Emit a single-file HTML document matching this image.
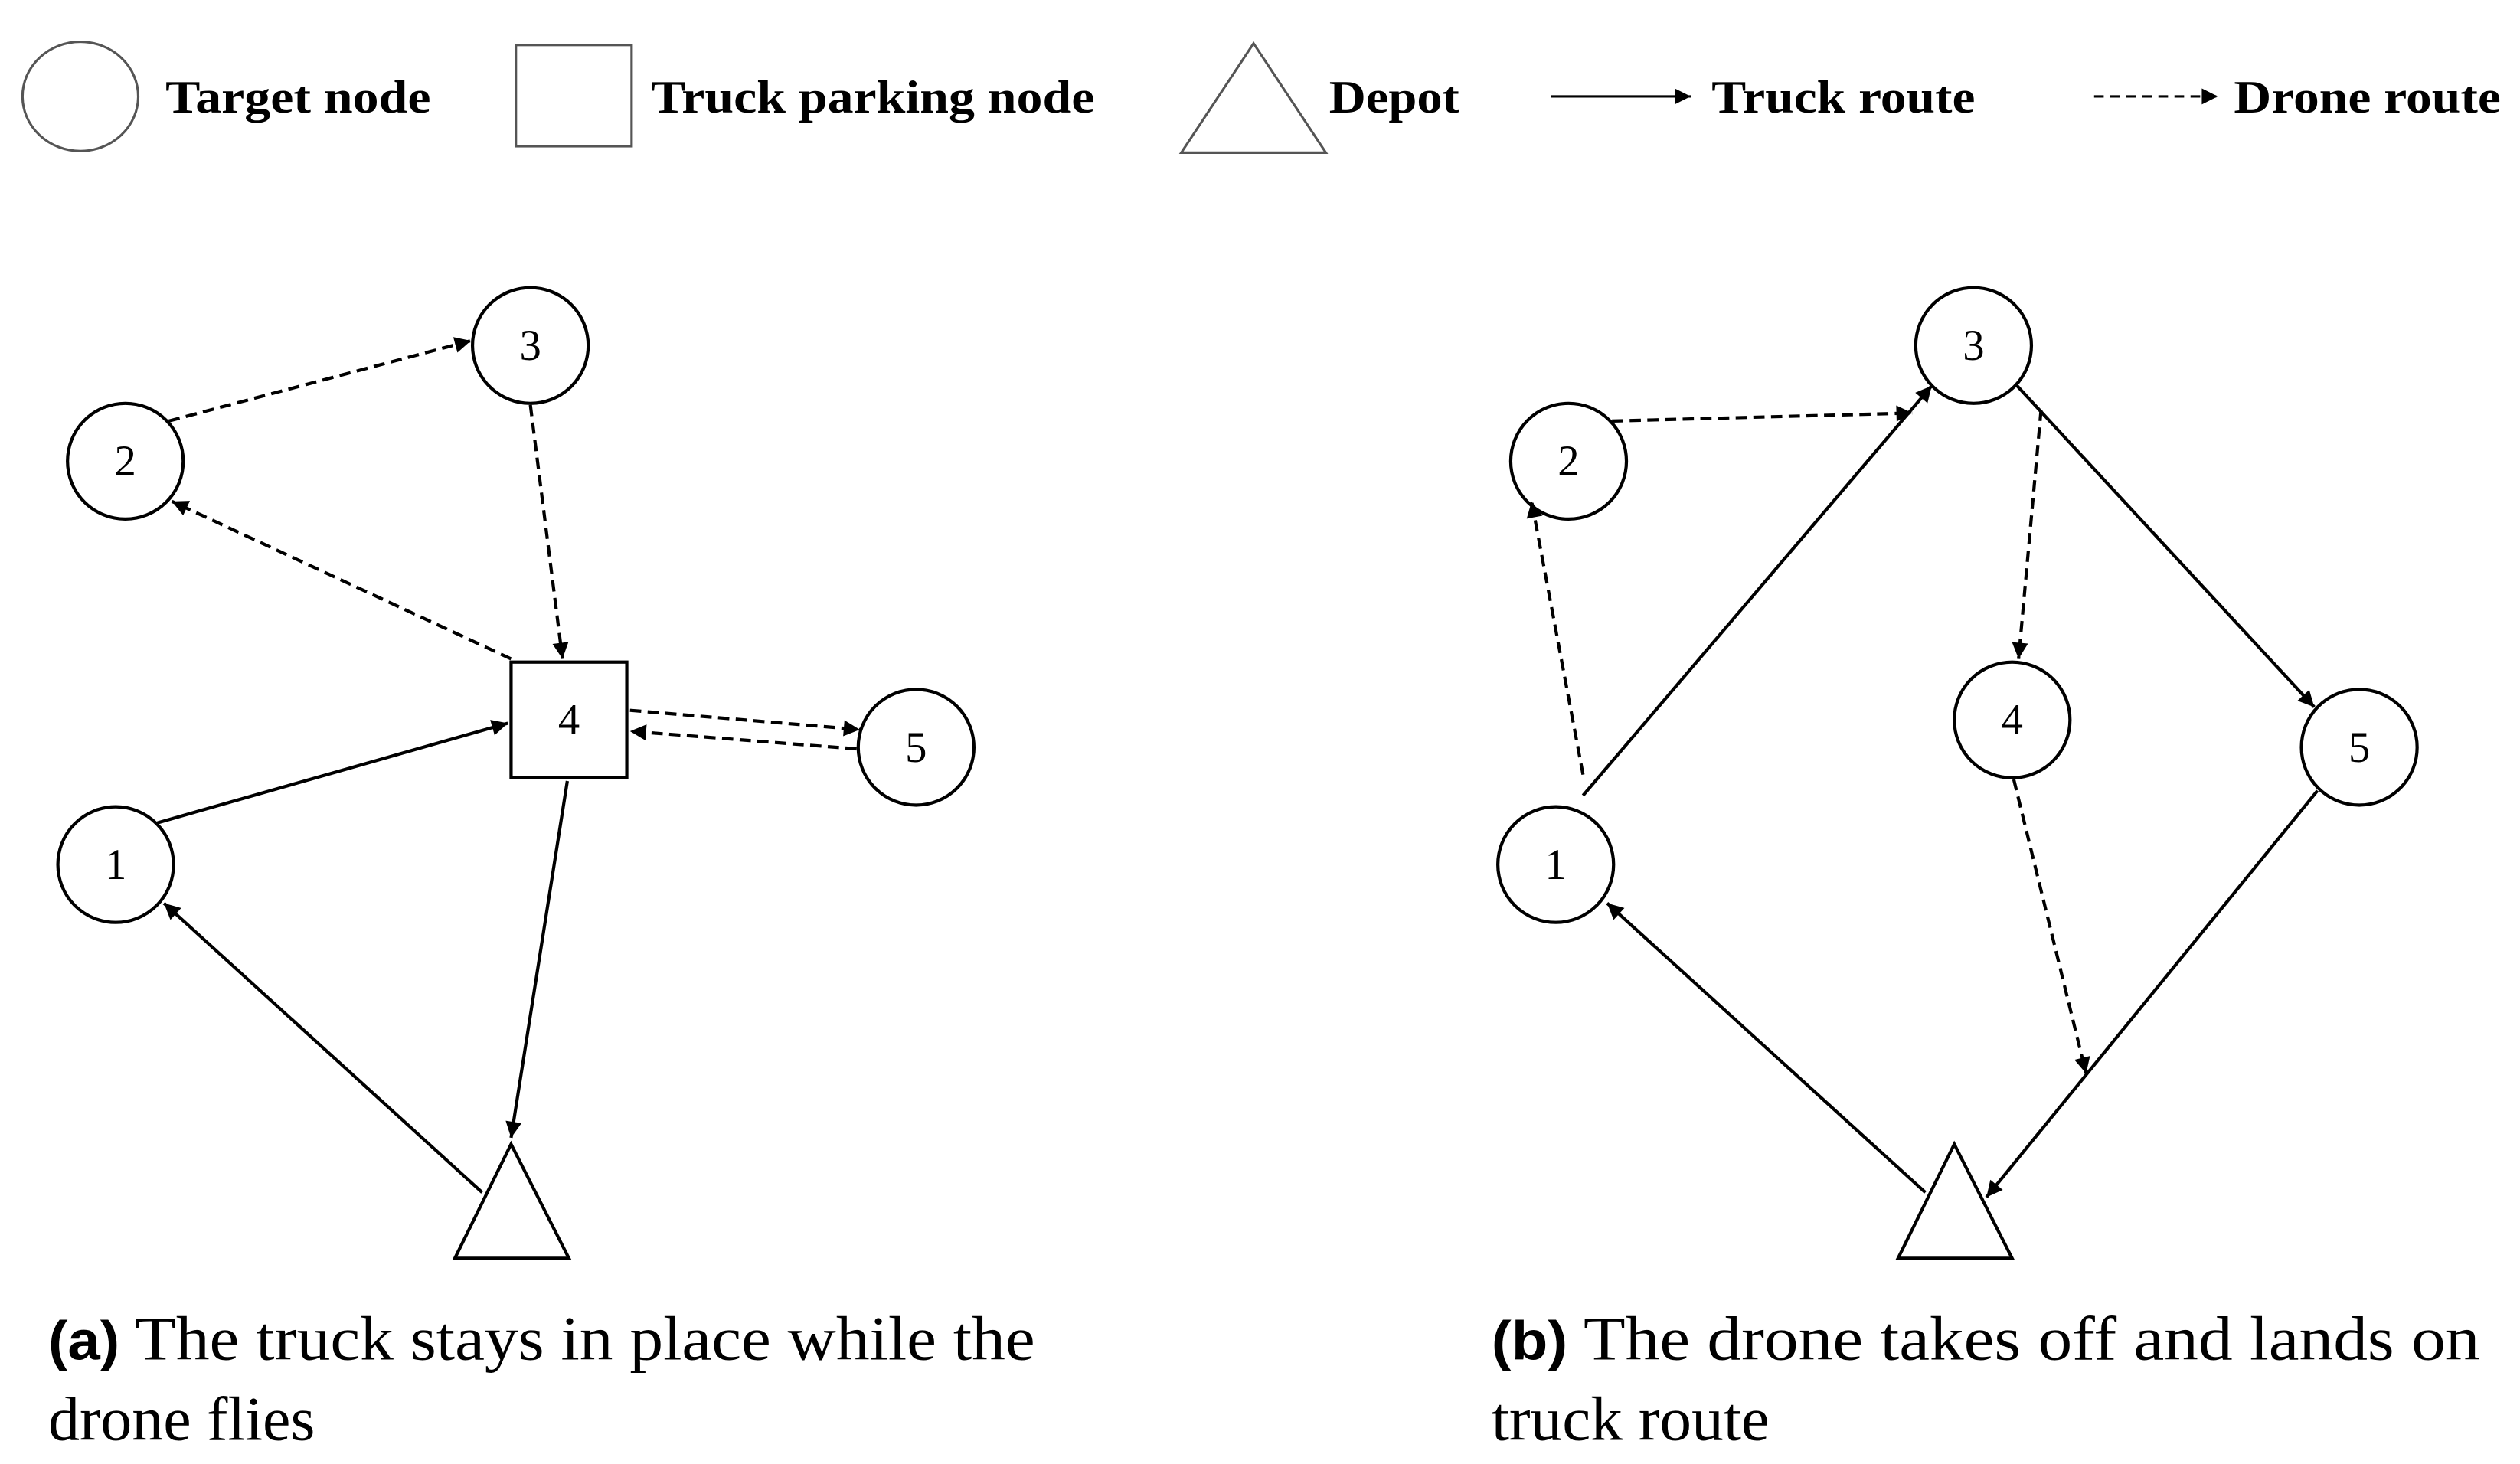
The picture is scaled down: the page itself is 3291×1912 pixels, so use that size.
<!DOCTYPE html>
<html><head><meta charset="utf-8">
<style>
html,body{margin:0;padding:0;background:#fff;}
svg{display:block;}
.lg{font-family:"Liberation Serif",serif;font-weight:bold;font-size:29px;}
.nd{font-family:"Liberation Serif",serif;font-size:27px;}
.cap{font-family:"Liberation Serif",serif;font-size:39px;}
</style></head>
<body>
<svg width="3291" height="1912" viewBox="0 0 1568 911" preserveAspectRatio="none" xmlns="http://www.w3.org/2000/svg">
<defs>
<marker id="ah" viewBox="0 0 10 10" refX="10" refY="5" markerWidth="13" markerHeight="10" markerUnits="userSpaceOnUse" orient="auto">
<path d="M0,0 L10,5 L0,10 z" fill="#000"/></marker>
</defs>
<g fill="none" stroke="#000" stroke-width="2">
<!-- legend -->
<ellipse cx="50" cy="60" rx="36" ry="34" stroke="#555" stroke-width="1.5"/>
<rect x="321" y="28" width="72" height="63" stroke="#555" stroke-width="1.5"/>
<polygon points="780,27 735,95 825,95" stroke="#555" stroke-width="1.5"/>
<line x1="965" y1="60" x2="1052" y2="60" marker-end="url(#ah)" stroke-width="1.5"/>
<line x1="1303" y1="60" x2="1380" y2="60" stroke-dasharray="6,4" marker-end="url(#ah)" stroke-width="1.5"/>
<!-- panel a nodes -->
<circle cx="330" cy="215" r="36"/>
<circle cx="78" cy="287" r="36"/>
<rect x="318" y="412" width="72" height="72"/>
<circle cx="570" cy="465" r="36"/>
<circle cx="72" cy="538" r="36"/>
<polygon points="318,712 283,783 354,783"/>
<!-- panel a edges -->
<g stroke-dasharray="7,4">
<line x1="105" y1="262" x2="293" y2="212" marker-end="url(#ah)"/>
<line x1="330" y1="252" x2="350" y2="410" marker-end="url(#ah)"/>
<line x1="318" y1="410" x2="107" y2="312" marker-end="url(#ah)"/>
<line x1="392" y1="442" x2="535" y2="454" marker-end="url(#ah)"/>
<line x1="533" y1="466" x2="392" y2="455" marker-end="url(#ah)"/>
</g>
<line x1="98" y1="512" x2="316" y2="450" marker-end="url(#ah)"/>
<line x1="353" y1="486" x2="318" y2="708" marker-end="url(#ah)"/>
<line x1="300" y1="742" x2="102" y2="562" marker-end="url(#ah)"/>
<!-- panel b nodes -->
<circle cx="1228" cy="215" r="36"/>
<circle cx="976" cy="287" r="36"/>
<circle cx="1252" cy="448" r="36"/>
<circle cx="1468" cy="465" r="36"/>
<circle cx="968" cy="538" r="36"/>
<polygon points="1216,712 1181,783 1252,783"/>
<!-- panel b edges -->
<g stroke-dasharray="7,4">
<line x1="1003" y1="262" x2="1190" y2="257" marker-end="url(#ah)"/>
<line x1="985" y1="482" x2="953" y2="312" marker-end="url(#ah)"/>
<line x1="1270" y1="255" x2="1256" y2="410" marker-end="url(#ah)"/>
<line x1="1253" y1="485" x2="1298" y2="668" marker-end="url(#ah)"/>
</g>
<line x1="985" y1="495" x2="1202" y2="240" marker-end="url(#ah)"/>
<line x1="1255" y1="240" x2="1440" y2="440" marker-end="url(#ah)"/>
<line x1="1442" y1="492" x2="1236" y2="745" marker-end="url(#ah)"/>
<line x1="1198" y1="742" x2="1000" y2="562" marker-end="url(#ah)"/>
</g>
<!-- legend text -->
<text class="lg" x="103" y="70" textLength="165" lengthAdjust="spacingAndGlyphs">Target node</text>
<text class="lg" x="405" y="70" textLength="276" lengthAdjust="spacingAndGlyphs">Truck parking node</text>
<text class="lg" x="827" y="70" textLength="81" lengthAdjust="spacingAndGlyphs">Depot</text>
<text class="lg" x="1065" y="70" textLength="164" lengthAdjust="spacingAndGlyphs">Truck route</text>
<text class="lg" x="1390" y="70" textLength="166" lengthAdjust="spacingAndGlyphs">Drone route</text>
<!-- node labels -->
<g class="nd" text-anchor="middle">
<text x="330" y="224">3</text>
<text x="78" y="296">2</text>
<text x="354" y="457">4</text>
<text x="570" y="474">5</text>
<text x="72" y="547">1</text>
<text x="1228" y="224">3</text>
<text x="976" y="296">2</text>
<text x="1252" y="457">4</text>
<text x="1468" y="474">5</text>
<text x="968" y="547">1</text>
</g>
<!-- captions -->
<text class="cap" x="30" y="846" textLength="614" lengthAdjust="spacingAndGlyphs"><tspan font-family="Liberation Sans,sans-serif" font-weight="bold" font-size="34">(a)</tspan> The truck stays in place while the</text>
<text class="cap" x="30" y="896" textLength="166" lengthAdjust="spacingAndGlyphs">drone flies</text>
<text class="cap" x="928" y="846" textLength="615" lengthAdjust="spacingAndGlyphs"><tspan font-family="Liberation Sans,sans-serif" font-weight="bold" font-size="34">(b)</tspan> The drone takes off and lands on</text>
<text class="cap" x="928" y="896" textLength="173" lengthAdjust="spacingAndGlyphs">truck route</text>
</svg>
</body></html>
